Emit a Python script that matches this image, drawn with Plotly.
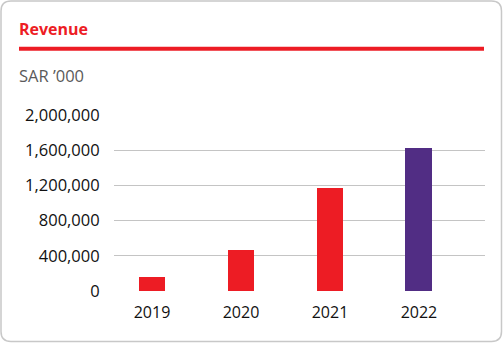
import plotly.graph_objects as go

years = ["2019", "2020", "2021", "2022"]
revenue = [159000, 466000, 1166000, 1625000]
bar_colors = ["#ED1C24", "#ED1C24", "#ED1C24", "#512D84"]
y_ticks = [0, 400000, 800000, 1200000, 1600000, 2000000]

W, H = 503, 343
L, R, T, B = 114, 18, 115, 52
PW, PH = W - L - R, H - T - B

def px(x):
    return (x - L) / PW

def py(y):
    return (H - B - y) / PH

xs = list(range(len(years)))
fig = go.Figure(go.Bar(
    x=xs, y=revenue, width=0.303,
    marker=dict(color=bar_colors, line=dict(width=0)),
))

font = "Open Sans"
fig.update_layout(
    width=W, height=H,
    margin=dict(l=L, r=R, t=T, b=B),
    paper_bgcolor="white", plot_bgcolor="white",
    showlegend=False,
    bargap=0,
    xaxis=dict(
        range=[-0.427, 3.742], tickvals=xs, ticktext=years,
        showgrid=False, zeroline=False, showline=False,
        ticks="outside", ticklen=7, tickcolor="rgba(0,0,0,0)",
        tickfont=dict(family=font, size=16, color="#111111"),
        fixedrange=True,
    ),
    yaxis=dict(
        range=[0, 2000000], tickvals=y_ticks, tickformat=",d",
        showgrid=True, gridcolor="#c4c4c4", gridwidth=1,
        zeroline=False, showline=False,
        ticks="outside", ticklen=10, tickcolor="rgba(0,0,0,0)",
        tickfont=dict(family=font, size=16.5, color="#111111"),
        fixedrange=True,
    ),
)

# rounded border
x0, x1, y0, y1 = 1, 501.5, 1, 341.5
r = 10
def P(x, y):
    return f"{px(x):.5f},{py(y):.5f}"
path = (f"M {P(x0 + r, y0)} L {P(x1 - r, y0)} Q {P(x1, y0)} {P(x1, y0 + r)} "
        f"L {P(x1, y1 - r)} Q {P(x1, y1)} {P(x1 - r, y1)} "
        f"L {P(x0 + r, y1)} Q {P(x0, y1)} {P(x0, y1 - r)} "
        f"L {P(x0, y0 + r)} Q {P(x0, y0)} {P(x0 + r, y0)} Z")
fig.add_shape(type="path", path=path, xref="paper", yref="paper",
              line=dict(color="#c8c8c8", width=1.5), layer="below")

# red rule under title
fig.add_shape(type="line", xref="paper", yref="paper",
              x0=px(19), x1=px(484), y0=py(48.7), y1=py(48.7),
              line=dict(color="#ED1C24", width=4))

fig.add_annotation(text="<b>Revenue</b>", xref="paper", yref="paper",
                   x=px(16.5), y=py(29), xanchor="left", yanchor="middle",
                   showarrow=False, font=dict(family=font, size=16, color="#ED1C24"))
fig.add_annotation(text="SAR ’000", xref="paper", yref="paper",
                   x=px(16.5), y=py(76), xanchor="left", yanchor="middle",
                   showarrow=False, font=dict(family=font, size=16.5, color="#5a5a5a"))

fig.write_html("out.html")
